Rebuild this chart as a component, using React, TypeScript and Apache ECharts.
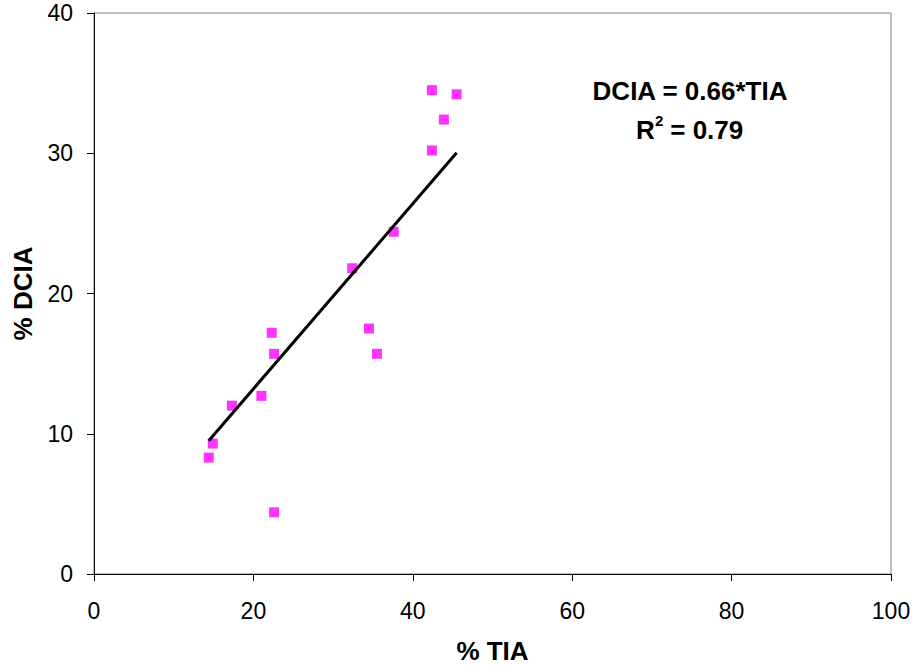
import React, { useEffect, useRef } from "react";
import * as echarts from "echarts";

const tiaValues = [14.4, 14.9, 17.3, 21.0, 22.3, 22.6, 22.6, 32.4, 34.5, 35.5, 37.6, 42.4, 42.4, 43.9, 45.5];
const dciaValues = [8.3, 9.3, 12.0, 12.7, 17.2, 15.7, 4.4, 21.8, 17.5, 15.7, 24.4, 30.2, 34.5, 32.4, 34.2];
const slope = 0.66;
const equationText = "DCIA = 0.66*TIA";
const r2Text = " = 0.79";
const xTicks = [0, 20, 40, 60, 80, 100];
const yTicks = [0, 10, 20, 30, 40];

export default function App() {
  const ref = useRef<HTMLDivElement>(null);
  useEffect(() => {
    if (!ref.current) return;
    const chart = echarts.init(ref.current, null, { renderer: "svg" });
    const points = tiaValues.map((x, i) => [x, dciaValues[i]]);
    const xMin = Math.min(...tiaValues);
    const xMax = Math.max(...tiaValues);
    const trend = [
      [xMin, slope * xMin],
      [xMax, slope * xMax],
    ];
    const font = "Liberation Sans, Arial, sans-serif";
    chart.setOption({
      animation: false,
      backgroundColor: "#ffffff",
      grid: {
        left: 94,
        right: 26,
        top: 13,
        bottom: 98,
        show: true,
        borderColor: "#808080",
        borderWidth: 1,
        backgroundColor: "transparent",
      },
      xAxis: {
        type: "value",
        min: xTicks[0],
        max: xTicks[xTicks.length - 1],
        interval: 20,
        name: "% TIA",
        nameLocation: "middle",
        nameGap: 64,
        nameTextStyle: { fontFamily: font, fontWeight: "bold", fontSize: 26, color: "#000" },
        axisLine: { show: true, onZero: false, lineStyle: { color: "#000", width: 1 } },
        axisTick: { show: true, inside: false, length: 7, lineStyle: { color: "#000" } },
        axisLabel: { fontFamily: font, fontSize: 23, color: "#000", margin: 25 },
        splitLine: { show: false },
      },
      yAxis: {
        type: "value",
        min: yTicks[0],
        max: yTicks[yTicks.length - 1],
        interval: 10,
        name: "% DCIA",
        nameLocation: "middle",
        nameGap: 58,
        nameRotate: 90,
        nameTextStyle: { fontFamily: font, fontWeight: "bold", fontSize: 26, color: "#000" },
        axisLine: { show: true, onZero: false, lineStyle: { color: "#000", width: 1 } },
        axisTick: { show: true, inside: false, length: 7, lineStyle: { color: "#000" } },
        axisLabel: { fontFamily: font, fontSize: 23, color: "#000", margin: 21 },
        splitLine: { show: false },
      },
      series: [
        {
          type: "scatter",
          data: points,
          symbol: "rect",
          symbolSize: 10,
          itemStyle: { color: "#FF00FF" },
          z: 2,
        },
        {
          type: "line",
          data: trend,
          symbol: "none",
          lineStyle: { color: "#000", width: 3 },
          z: 3,
        },
      ],
      graphic: [
        {
          type: "text",
          x: 690,
          y: 91,
          style: {
            text: equationText,
            fontFamily: font,
            fontWeight: "bold",
            fontSize: 26,
            fill: "#000",
            verticalAlign: "middle",
            align: "center",
          },
        },
        {
          type: "text",
          x: 636,
          y: 130,
          style: {
            text: "R",
            fontFamily: font,
            fontWeight: "bold",
            fontSize: 26,
            fill: "#000",
            verticalAlign: "middle",
            align: "left",
          },
        },
        {
          type: "text",
          x: 655,
          y: 120,
          style: {
            text: "2",
            fontFamily: font,
            fontWeight: "bold",
            fontSize: 15,
            fill: "#000",
            verticalAlign: "middle",
            align: "left",
          },
        },
        {
          type: "text",
          x: 663,
          y: 130,
          style: {
            text: r2Text,
            fontFamily: font,
            fontWeight: "bold",
            fontSize: 26,
            fill: "#000",
            verticalAlign: "middle",
            align: "left",
          },
        },
      ],
    });
    return () => chart.dispose();
  }, []);
  return <div ref={ref} style={{ width: 917, height: 672, position: "absolute", left: 0, top: 0 }} />;
}
